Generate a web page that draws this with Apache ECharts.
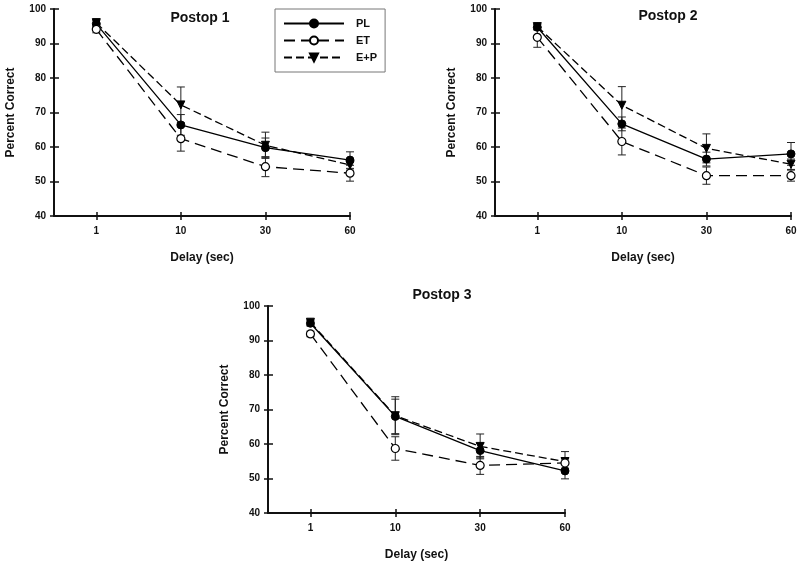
<!DOCTYPE html>
<html><head><meta charset="utf-8">
<script src="https://cdn.jsdelivr.net/npm/echarts@6/dist/echarts.min.js"></script>
<style>html,body{margin:0;padding:0;background:#fff}#c{width:800px;height:567px}</style>
</head><body><div id="c"></div>
<script>
const delays = ['1', '10', '30', '60'];
const yTicks = [40, 50, 60, 70, 80, 90, 100];
const panelTitles = ['Postop 1', 'Postop 2', 'Postop 3'];
const groupNames = ['PL', 'ET', 'E+P'];

// Postop 1
const p1PL = [95.7, 66.4, 59.8, 56.2];
const p1PLerr = [1.0, 3.0, 2.8, 2.4];
const p1ET = [94.1, 62.4, 54.3, 52.4];
const p1ETerr = [1.0, 3.6, 2.9, 2.3];
const p1EP = [96.0, 72.2, 60.5, 54.8];
const p1EPerr = [1.2, 5.2, 3.8, 1.5];
// Postop 2
const p2PL = [94.7, 66.7, 56.5, 58.0];
const p2PLerr = [0.8, 2.0, 2.0, 3.3];
const p2ET = [91.8, 61.6, 51.7, 51.7];
const p2ETerr = [2.9, 3.9, 2.5, 1.6];
const p2EP = [94.9, 72.1, 59.6, 55.0];
const p2EPerr = [0.8, 5.4, 4.2, 1.5];
// Postop 3
const p3PL = [95.0, 68.0, 58.1, 52.2];
const p3PLerr = [0.8, 5.0, 2.1, 2.3];
const p3ET = [91.9, 58.7, 53.8, 54.5];
const p3ETerr = [0.8, 3.4, 2.6, 1.5];
const p3EP = [95.3, 68.2, 59.3, 54.9];
const p3EPerr = [0.8, 5.5, 3.6, 2.9];

const panels = [
  {PL: p1PL, PLe: p1PLerr, ET: p1ET, ETe: p1ETerr, EP: p1EP, EPe: p1EPerr},
  {PL: p2PL, PLe: p2PLerr, ET: p2ET, ETe: p2ETerr, EP: p2EP, EPe: p2EPerr},
  {PL: p3PL, PLe: p3PLerr, ET: p3ET, ETe: p3ETerr, EP: p3EP, EPe: p3EPerr}
];

const FONT = '"Liberation Sans", Arial, Helvetica, sans-serif';
const grids = [
  {left: 54, top: 9, width: 296, height: 207},
  {left: 495, top: 9, width: 296, height: 207},
  {left: 268, top: 306, width: 297, height: 207}
];
const titlePos = [[195, 6], [663, 4], [437, 283]];

const tickIdx = delays.map((d, i) => i);
const xAxes = [], yAxes = [];
grids.forEach((g, i) => {
  xAxes.push({
    gridIndex: i, type: 'value', min: -0.5, max: 3, position: 'bottom',
    axisLine: {onZero: false, lineStyle: {color: '#111', width: 2}},
    axisTick: {customValues: tickIdx, length: 4, lineStyle: {color: '#111', width: 1.5}},
    axisLabel: {customValues: tickIdx, formatter: v => delays[Math.round(v)], color: '#111',
      fontFamily: FONT, fontWeight: 'bold', fontSize: 10, margin: 10},
    splitLine: {show: false},
    name: 'Delay (sec)', nameLocation: 'middle', nameGap: 36,
    nameTextStyle: {fontFamily: FONT, fontWeight: 'bold', fontSize: 12, color: '#111'}
  });
  xAxes.push({
    gridIndex: i, type: 'value', min: -0.5, max: 3, position: 'bottom',
    axisLine: {show: false, onZero: false},
    axisTick: {inside: true, customValues: tickIdx, length: 4, lineStyle: {color: '#111', width: 1.5}},
    axisLabel: {show: false}, splitLine: {show: false}
  });
  yAxes.push({
    gridIndex: i, type: 'value', min: 40, max: 100, interval: 10, position: 'left',
    axisLine: {show: true, onZero: false, lineStyle: {color: '#111', width: 2}},
    axisTick: {show: true, length: 4, lineStyle: {color: '#111', width: 1.5}},
    axisLabel: {color: '#111', fontFamily: FONT, fontWeight: 'bold', fontSize: 10, margin: 8},
    splitLine: {show: false},
    name: 'Percent Correct', nameLocation: 'middle', nameGap: 37, nameRotate: 90,
    nameTextStyle: {fontFamily: FONT, fontWeight: 'bold', fontSize: 12, color: '#111'}
  });
  yAxes.push({
    gridIndex: i, type: 'value', min: 40, max: 100, interval: 10, position: 'left',
    axisLine: {show: false, onZero: false},
    axisTick: {show: true, inside: true, length: 5, lineStyle: {color: '#111', width: 1.5}},
    axisLabel: {show: false}, splitLine: {show: false}
  });
});

function errRender(params, api) {
  const x = api.value(0), lo = api.value(1), hi = api.value(2);
  const a = api.coord([x, lo]), b = api.coord([x, hi]);
  const w = 4;
  const st = {stroke: '#222', lineWidth: 1};
  return {type: 'group', children: [
    {type: 'line', shape: {x1: a[0], y1: a[1], x2: b[0], y2: b[1]}, style: st},
    {type: 'line', shape: {x1: a[0] - w, y1: a[1], x2: a[0] + w, y2: a[1]}, style: st},
    {type: 'line', shape: {x1: b[0] - w, y1: b[1], x2: b[0] + w, y2: b[1]}, style: st}
  ]};
}

const styles = {
  PL: {symbol: 'circle', symbolRotate: 0, itemStyle: {color: '#000', borderColor: '#000', borderWidth: 1},
       lineStyle: {color: '#000', width: 1.3, type: 'solid'}},
  ET: {symbol: 'circle', symbolRotate: 0, itemStyle: {color: '#fff', borderColor: '#000', borderWidth: 1.2},
       lineStyle: {color: '#000', width: 1.3, type: [11, 6]}},
  'E+P': {symbol: 'triangle', symbolRotate: 180, itemStyle: {color: '#000', borderColor: '#000', borderWidth: 1},
       lineStyle: {color: '#000', width: 1.3, type: [8, 4]}}
};

const series = [];
panels.forEach((p, i) => {
  const sets = [['PL', p.PL, p.PLe], ['ET', p.ET, p.ETe], ['E+P', p.EP, p.EPe]];
  sets.forEach(([name, vals, errs]) => {
    series.push({
      type: 'custom', name: name + ' err', xAxisIndex: 2 * i, yAxisIndex: 2 * i,
      renderItem: errRender, silent: true, z: 1,
      data: vals.map((v, k) => [k, v - errs[k], v + errs[k]])
    });
  });
  [['E+P', p.EP], ['PL', p.PL], ['ET', p.ET]].forEach(([name, vals]) => {
    const s = styles[name];
    series.push({
      type: 'line', name: name, xAxisIndex: 2 * i, yAxisIndex: 2 * i, z: 3,
      symbol: s.symbol, symbolRotate: s.symbolRotate, symbolSize: 8, showSymbol: true,
      itemStyle: s.itemStyle, lineStyle: s.lineStyle,
      data: vals.map((v, k) => [k, v])
    });
  });
});

const chart = echarts.init(document.getElementById('c'), null, {renderer: 'canvas'});
chart.setOption({
  animation: false,
  backgroundColor: '#fff',
  title: panelTitles.map((t, i) => ({
    text: t, left: titlePos[i][0], top: titlePos[i][1], textAlign: 'center',
    textStyle: {fontFamily: FONT, fontWeight: 'bold', fontSize: 14, color: '#111'}
  })),
  legend: {
    orient: 'vertical', left: 275, top: 9, padding: [9, 8, 9, 8],
    itemWidth: 60, itemHeight: 10, itemGap: 6,
    borderColor: '#777', borderWidth: 1, selectedMode: false,
    data: groupNames,
    textStyle: {fontFamily: FONT, fontWeight: 'bold', fontSize: 11, color: '#111', padding: [0, 0, 0, 7]}
  },
  grid: grids,
  xAxis: xAxes,
  yAxis: yAxes,
  series: series
});
</script></body></html>
